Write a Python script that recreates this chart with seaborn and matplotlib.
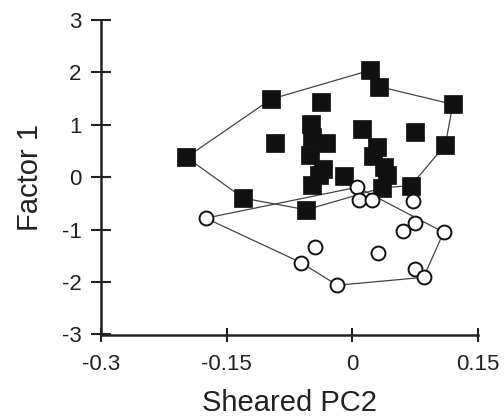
import numpy as np
import pandas as pd
import matplotlib
matplotlib.use("Agg")
import matplotlib.pyplot as plt
import seaborn as sns

# Group 1 (filled squares)
sq_x = [-0.198, -0.130, -0.097, -0.092, -0.037, -0.049, -0.048, -0.031, -0.051,
        -0.035, -0.040, -0.048, -0.055, -0.010, 0.021, 0.032, 0.011, 0.029,
        0.025, 0.038, 0.041, 0.036, 0.070, 0.075, 0.120, 0.111]
sq_y = [0.38, -0.40, 1.49, 0.65, 1.44, 1.01, 0.76, 0.65, 0.42,
        0.15, 0.04, -0.15, -0.62, 0.03, 2.04, 1.73, 0.93, 0.58,
        0.40, 0.20, 0.04, -0.20, -0.16, 0.87, 1.39, 0.62]
# polygon vertex order (indices into square arrays)
sq_hull = [0, 2, 14, 15, 24, 25, 22, 21, 12, 1, 0]

# Group 2 (open circles)
ci_x = [-0.175, -0.044, -0.061, -0.018, 0.006, 0.008, 0.024, 0.072,
        0.060, 0.075, 0.109, 0.031, 0.075, 0.085]
ci_y = [-0.78, -1.34, -1.63, -2.06, -0.19, -0.43, -0.43, -0.46,
        -1.02, -0.88, -1.05, -1.45, -1.75, -1.91]
ci_hull = [0, 4, 10, 13, 3, 2, 0]

x_ticks = [-0.3, -0.15, 0, 0.15]
x_tick_labels = ["-0.3", "-0.15", "0", "0.15"]
y_ticks = [-3, -2, -1, 0, 1, 2, 3]
y_tick_labels = ["-3", "-2", "-1", "0", "1", "2", "3"]

sns.set_style("white")
plt.rcParams['font.family'] = ['Liberation Sans', 'DejaVu Sans']
plt.rcParams['axes.unicode_minus'] = False

fig = plt.figure(figsize=(5.04, 4.19), dpi=100)
ax = fig.add_axes([101 / 504, (419 - 334.5) / 419, 377 / 504, 314.5 / 419])

sq = pd.DataFrame({"x": sq_x, "y": sq_y})
ci = pd.DataFrame({"x": ci_x, "y": ci_y})

hull_color = "#444444"
ax.plot(sq.x.iloc[sq_hull], sq.y.iloc[sq_hull], color=hull_color, lw=0.9, zorder=1)
ax.plot(ci.x.iloc[ci_hull], ci.y.iloc[ci_hull], color=hull_color, lw=0.9, zorder=1)

sns.scatterplot(data=sq, x="x", y="y", marker="s", s=165, color="#111111",
                edgecolor="#111111", linewidth=0.5, ax=ax, zorder=3)
sns.scatterplot(data=ci, x="x", y="y", marker="o", s=100, facecolor="white",
                edgecolor="#111111", linewidth=1.4, ax=ax, zorder=4)

ax.set_xlim(-0.3, 0.15)
ax.set_ylim(-3, 3)
ax.set_xticks(x_ticks)
ax.set_xticklabels(x_tick_labels)
ax.set_yticks(y_ticks)
ax.set_yticklabels(y_tick_labels)
ax.set_xlabel("Sheared PC2", fontsize=21, color="#222222", labelpad=10)
ax.set_ylabel("Factor 1", fontsize=21, color="#222222", labelpad=13)

for side in ["top", "right"]:
    ax.spines[side].set_visible(False)
for side in ["left", "bottom"]:
    ax.spines[side].set_linewidth(1.8)
    ax.spines[side].set_color("#222222")

ax.tick_params(axis="both", direction="inout", width=1.5, color="#222222",
               labelsize=16, labelcolor="#222222", left=True, bottom=True)
ax.tick_params(axis="y", length=14, pad=7)
ax.tick_params(axis="x", length=10, pad=9)
for c in ax.collections:
    c.set_clip_on(False)

fig.savefig("out.png", dpi=100)
